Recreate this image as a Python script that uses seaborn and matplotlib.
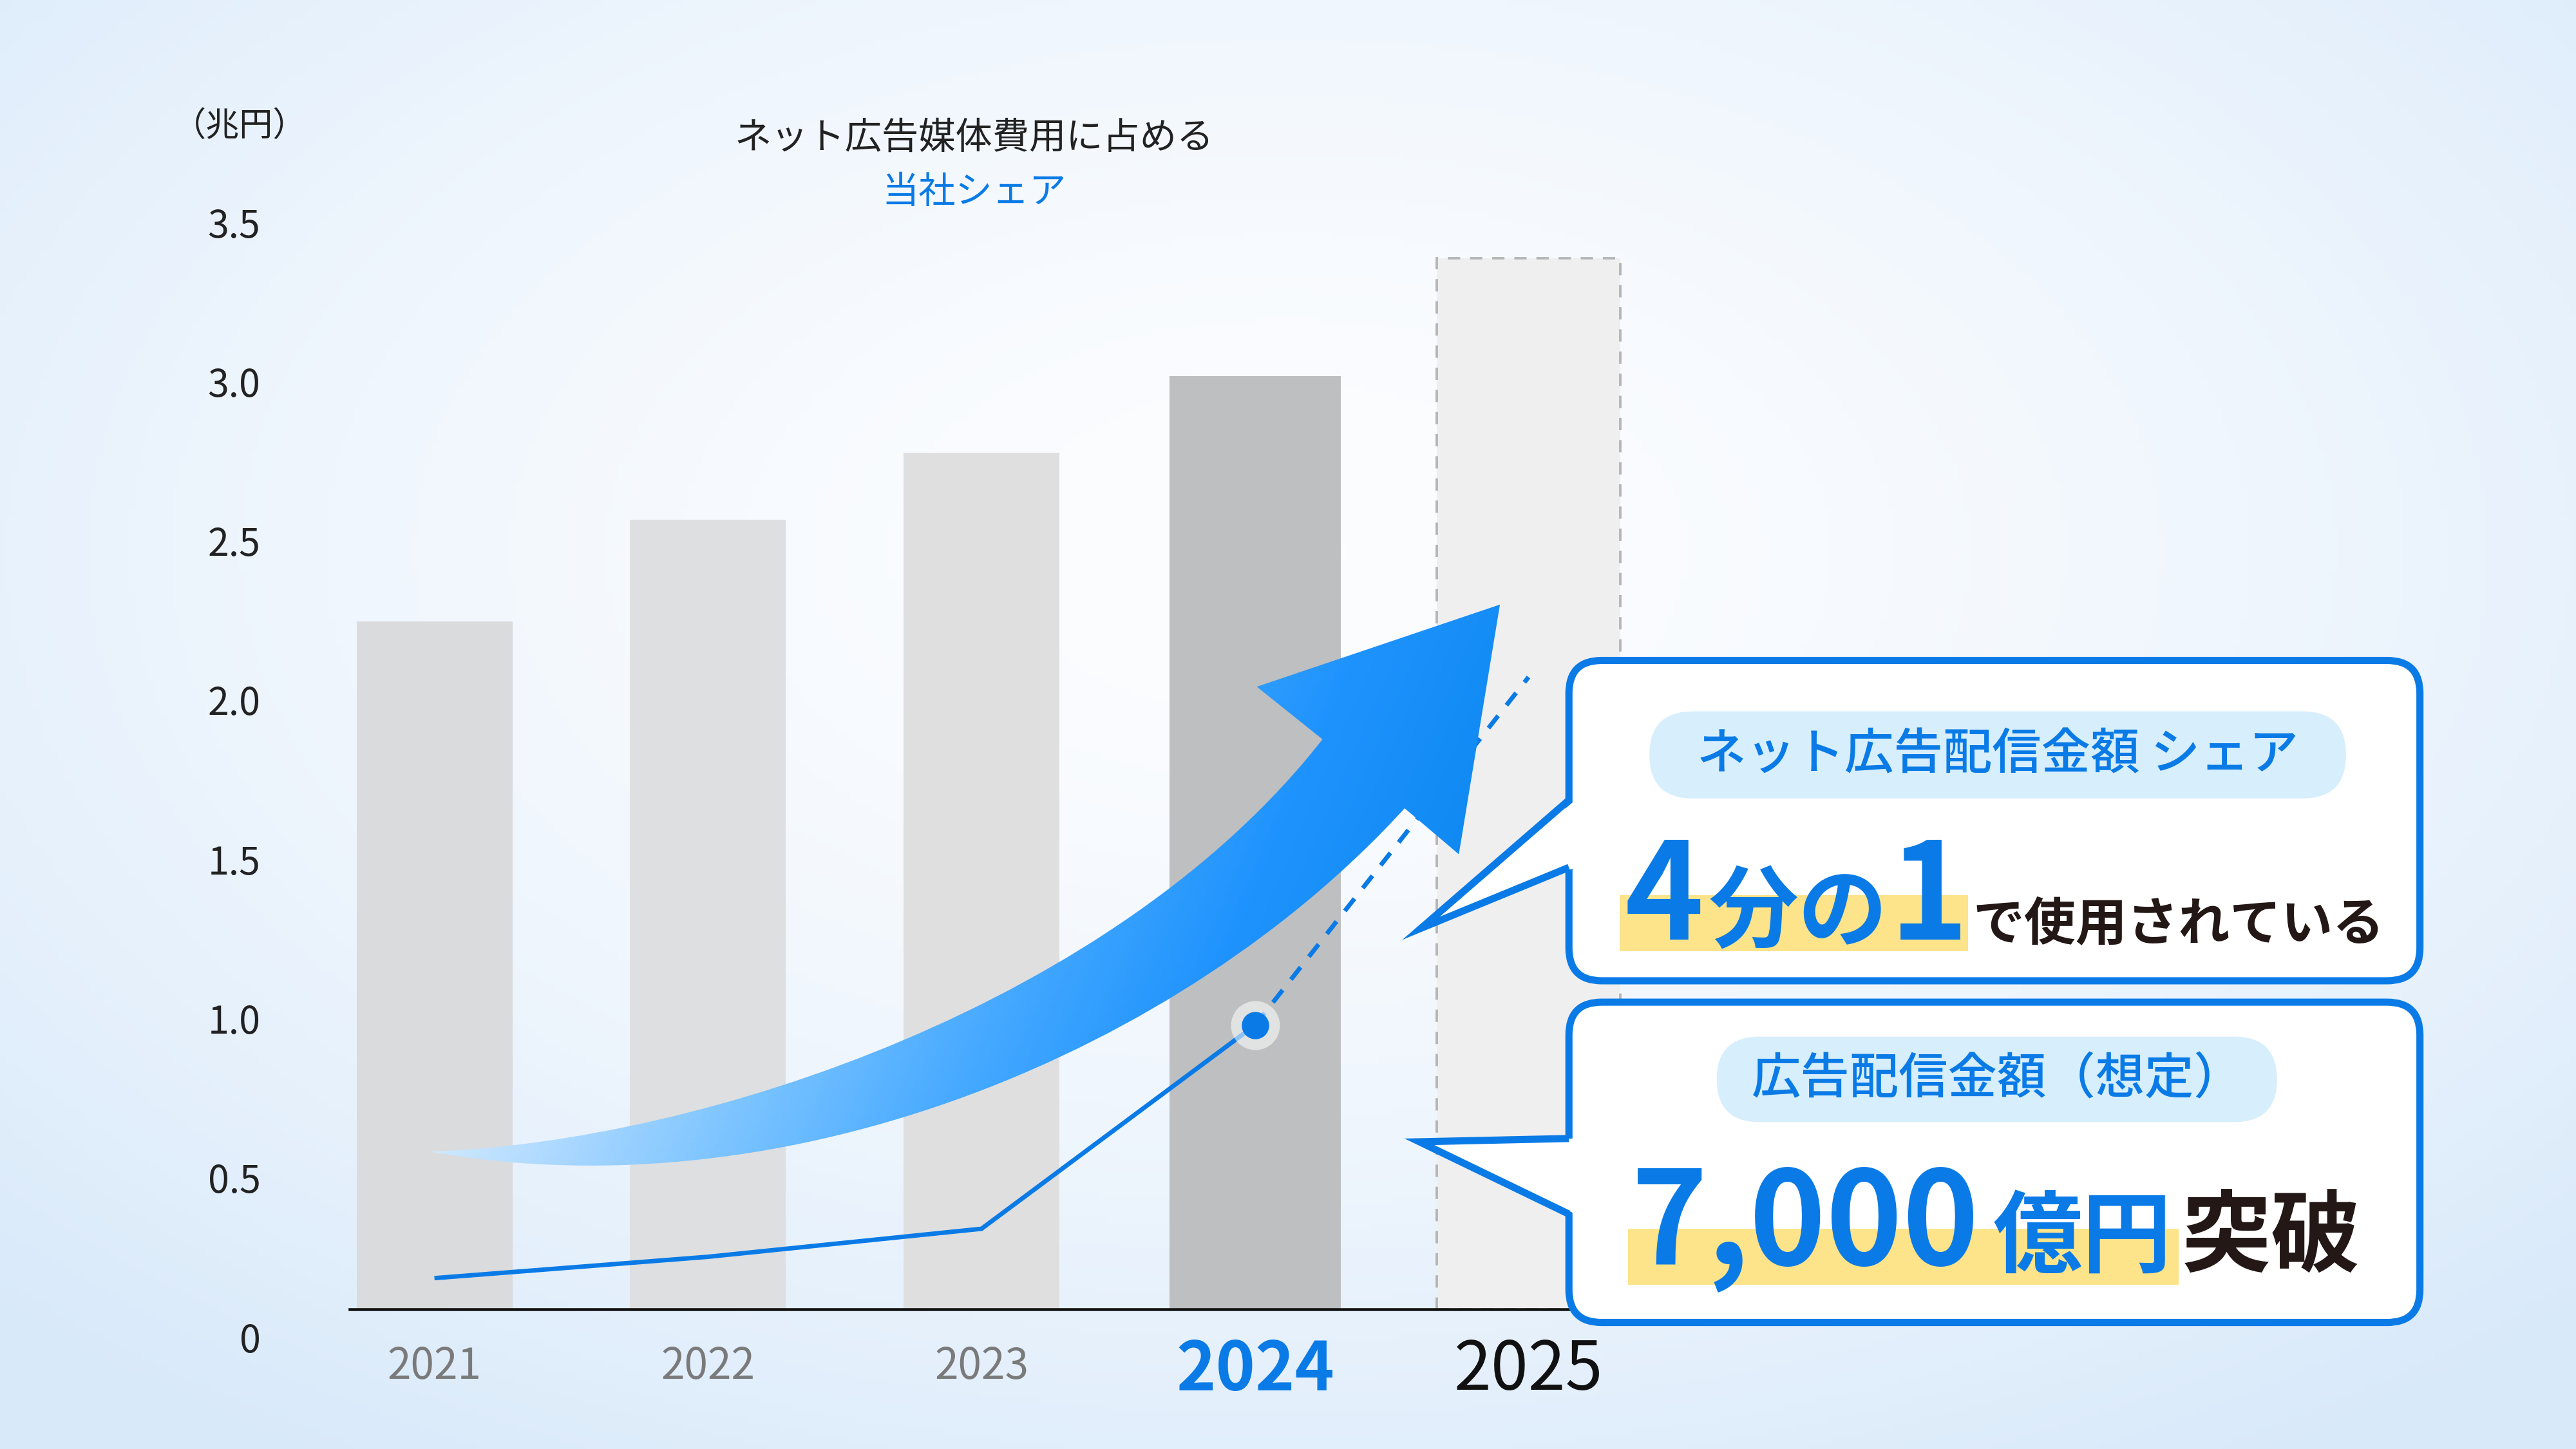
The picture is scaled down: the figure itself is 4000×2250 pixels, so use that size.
import numpy as np
import pandas as pd
import matplotlib
matplotlib.use('Agg')
import matplotlib.pyplot as plt
import matplotlib.transforms as mtransforms
from matplotlib.path import Path
from matplotlib.patches import PathPatch, FancyBboxPatch, Rectangle, Polygon
from matplotlib.colors import LinearSegmentedColormap
import seaborn as sns

# データ
years = ['2021', '2022', '2023', '2024', '2025']
ad_cost = [2.16, 2.48, 2.69, 2.93, 3.30]        # ネット広告媒体費 (兆円)
share_line = [0.098, 0.165, 0.253, 0.892, 1.985]  # 当社シェア (推移)
y_ticks = [0, 0.5, 1.0, 1.5, 2.0, 2.5, 3.0, 3.5]
y_tick_labels = ['0', '0.5', '1.0', '1.5', '2.0', '2.5', '3.0', '3.5']

bar_colors = ['#dadbdd', '#dedfe0', '#dfdfe0', '#bebfc0', '#efeff0']
BLUE = '#0a7be6'
DARK = '#231815'

sns.set_theme(style='white')
plt.rcParams['font.family'] = ['Noto Sans CJK JP', 'DejaVu Sans']

W, H = 1568, 882  # 参照画像の座標系

fig = plt.figure(figsize=(16, 9), dpi=250)

# 背景グラデーション
ax_bg = fig.add_axes([0, 0, 1, 1], zorder=-2)
gy, gx = np.mgrid[0:1:225j, 0:1:400j]
d = np.sqrt(((gx - 0.5) / 0.72) ** 2 + ((gy - 0.38) / 0.75) ** 2)
d = np.clip(d, 0, 1) ** 1.6
bg_cmap = LinearSegmentedColormap.from_list('bg', ['#fcfdff', '#d8e9fa'])
ax_bg.imshow(d, cmap=bg_cmap, vmin=0, vmax=1, aspect='auto', extent=[0, 1, 1, 0])
ax_bg.axis('off')

# メインのグラフ
ax = fig.add_axes([213 / W, 1 - 797 / H, (1008 - 213) / W, 698 / H], zorder=0)
ax.set_facecolor('none')
df = pd.DataFrame({'year': years, 'cost': ad_cost})
sns.barplot(data=df, x='year', y='cost', hue='year', palette=bar_colors,
            legend=False, width=0.57, saturation=1, linewidth=0, ax=ax)

# 2024, 2025 の棒は少し太く
for i, w in [(3, 0.625), (4, 0.673)]:
    p = ax.patches[i]
    c = p.get_x() + p.get_width() / 2
    p.set_width(w)
    p.set_x(c - w / 2)
last = ax.patches[4]
last.set_edgecolor('#b5b5b5')
last.set_linewidth(1.1)
last.set_linestyle((0, (5, 4)))

xs = np.arange(len(years))
ax.plot(xs[:4], share_line[:4], color=BLUE, lw=2.0, zorder=4, solid_capstyle='butt')
ax.plot(xs[3:], share_line[3:], color=BLUE, lw=2.0, ls=(0, (3.5, 3)), zorder=4)
ax.scatter([xs[3]], [share_line[3]], s=480, color='white', alpha=0.55, zorder=5, lw=0)
ax.scatter([xs[3]], [share_line[3]], s=150, color=BLUE, zorder=6, lw=0)

ax.set_xlim(-0.309, 4.466)
ax.set_ylim(0, 3.6)
ax.set_yticks(y_ticks)
ax.set_yticklabels(y_tick_labels, fontsize=17, color='#222222')
ax.tick_params(axis='y', length=0, pad=40)
offset = mtransforms.ScaledTranslation(0, -12.4 / 72, fig.dpi_scale_trans)
for lab in ax.get_yticklabels():
    lab.set_transform(lab.get_transform() + offset)

ax.set_xticks(xs)
ax.set_xticklabels(years)
ax.tick_params(axis='x', length=0)
tick_styles = [('#7a7a7a', 19, 'normal', 16),
               ('#7a7a7a', 19, 'normal', 16),
               ('#7a7a7a', 19, 'normal', 16),
               (BLUE, 30, 'bold', 12),
               ('#111111', 30, 'normal', 12)]
for tick, lab, (col, sz, wt, pad) in zip(ax.xaxis.get_major_ticks(),
                                         ax.get_xticklabels(), tick_styles):
    lab.set_color(col)
    lab.set_fontsize(sz)
    lab.set_fontweight(wt)
    tick.set_pad(pad)
ax.set_xlabel('')
ax.set_ylabel('')
for s in ['top', 'right', 'left']:
    ax.spines[s].set_visible(False)
ax.spines['bottom'].set_color('#111111')
ax.spines['bottom'].set_linewidth(1.3)

# 上に重ねる装飾レイヤー
ov = fig.add_axes([0, 0, 1, 1], zorder=2)
ov.set_xlim(0, W)
ov.set_ylim(H, 0)
ov.axis('off')
ov.set_facecolor('none')

ov.text(146, 77, '（兆円）', ha='center', va='center', fontsize=15, color='#222222')
ov.text(593, 84, 'ネット広告媒体費用に占める', ha='center', va='center',
        fontsize=16.5, color='#222222')
ov.text(593, 117, '当社シェア', ha='center', va='center', fontsize=16.5, color=BLUE)

# 曲線矢印 (グラデーション)
verts = [(262, 701), (430, 695), (680, 610), (805, 450),
         (765, 418), (913, 368), (888, 520), (855, 492),
         (720, 640), (480, 740), (262, 701), (262, 701)]
codes = [Path.MOVETO, Path.CURVE4, Path.CURVE4, Path.CURVE4,
         Path.LINETO, Path.LINETO, Path.LINETO, Path.LINETO,
         Path.CURVE4, Path.CURVE4, Path.CURVE4, Path.CLOSEPOLY]
arrow = PathPatch(Path(verts, codes), facecolor='none', edgecolor='none')
ov.add_patch(arrow)
ay, ax_ = np.mgrid[0:1:200j, 0:1:300j]
t = ax_ + 0.25 * (ay - 0.3)
arr_cmap = LinearSegmentedColormap.from_list(
    'arr', ['#eef7ff', '#b4dcff', '#78c2ff', '#45a9ff', '#1f93fd', '#0f89f2'])
im = ov.imshow(t, cmap=arr_cmap, vmin=0.05, vmax=1.0, aspect='auto',
               extent=[260, 915, 745, 365], zorder=3)
im.set_clip_path(arrow)

# 吹き出し
def callout(y0, y1, pointer):
    box = FancyBboxPatch((955, y0), 518, y1 - y0,
                         boxstyle='round,pad=0,rounding_size=20',
                         facecolor='white', edgecolor=BLUE, lw=3.2, zorder=6)
    ov.add_patch(box)
    (xa, ya), (xt, yt), (xb, yb) = pointer
    ov.add_patch(Polygon([(xa + 4, ya), (xt, yt), (xb + 4, yb)], closed=True,
                         facecolor='white', edgecolor='none', zorder=7))
    ov.plot([xa, xt, xb], [ya, yt, yb], color=BLUE, lw=3.2, zorder=8,
            solid_joinstyle='miter', solid_capstyle='butt')

callout(402, 597, [(955, 487), (865, 565), (955, 528)])
callout(610, 805, [(955, 693), (864, 695), (955, 739)])

def pill(x0, x1, y0, y1, text):
    h = y1 - y0
    ov.add_patch(FancyBboxPatch((x0, y0), x1 - x0, h,
                                boxstyle=f'round,pad=0,rounding_size={h / 2}',
                                facecolor='#d7eefc', edgecolor='none', zorder=9))
    ov.text((x0 + x1) / 2, (y0 + y1) / 2, text, ha='center', va='center',
            fontsize=22, fontweight='medium', color=BLUE, zorder=10)

pill(1004, 1428, 433, 486, 'ネット広告配信金額 シェア')
pill(1045, 1386, 631, 683, '広告配信金額（想定）')

# マーカー (黄色)
ov.add_patch(Rectangle((986, 545), 212, 34, facecolor='#fde38a', edgecolor='none', zorder=9))
ov.add_patch(Rectangle((991, 748), 335, 34, facecolor='#fde38a', edgecolor='none', zorder=9))

# 強調テキスト
ov.text(989, 572, '4', fontsize=60, fontweight='bold', color=BLUE, va='baseline', zorder=10)
ov.text(1040, 572, '分の', fontsize=40, fontweight='bold', color=BLUE, va='baseline', zorder=10)
ov.text(1150, 572, '1', fontsize=60, fontweight='bold', color=BLUE, va='baseline', zorder=10)
ov.text(1201, 572, 'で使用されている', fontsize=23, fontweight='bold', color=DARK,
        va='baseline', zorder=10)
ov.text(993, 770, '7,000', fontsize=58, fontweight='bold', color=BLUE, va='baseline', zorder=10)
ov.text(1213, 770, '億円', fontsize=40, fontweight='bold', color=BLUE, va='baseline', zorder=10)
ov.text(1328, 770, '突破', fontsize=40, fontweight='bold', color=DARK, va='baseline', zorder=10)

fig.savefig('out.png', dpi=250)
